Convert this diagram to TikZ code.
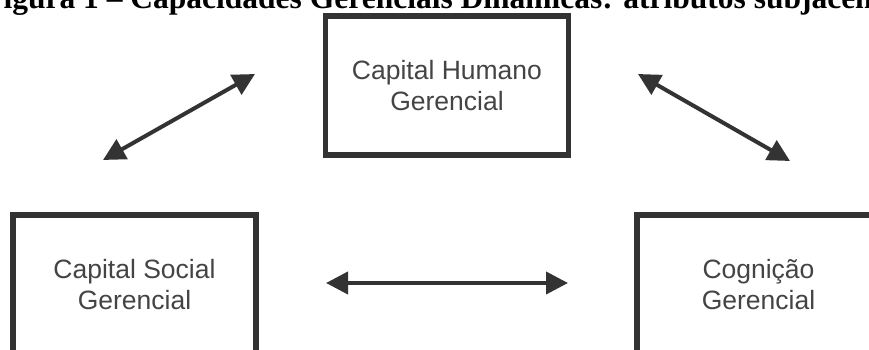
\documentclass[tikz,border=0pt]{standalone}
\usepackage{fontspec}
\setmainfont{Liberation Sans}
\newfontfamily\titlefont{Liberation Serif}
\usetikzlibrary{arrows.meta}
\definecolor{boxgray}{HTML}{333333}
\definecolor{textgray}{HTML}{444444}
\tikzstyle{box} = [rectangle, minimum width=243pt, minimum height=139pt, inner sep=0pt, align=center, draw=boxgray, line width=5.5pt, text=textgray, font=\fontsize{26.5}{30.5}\selectfont]
\tikzstyle{arrow} = [draw=boxgray, line width=4pt, <->, >={Triangle[length=22pt,width=22pt]}]

\begin{document}
\begin{tikzpicture}[x=1pt, y=-1pt]
    \useasboundingbox (0,0) rectangle (869,350);
    \clip (0,0) rectangle (869,350);
    \node (title)[anchor=base west, font=\titlefont\bfseries\fontsize{31.5}{36}\selectfont] at (-19.2,8.5) {Figura 1 – Capacidades Gerenciais Dinâmicas: atributos subjacentes};
    \node (h1)[box] at (447,85.5) {Capital Humano\\Gerencial};
    \node (s1)[box] at (134.5,284.5) {Capital Social\\Gerencial};
    \node (c1)[box] at (758.5,284.5) {Cognição\\Gerencial};
    % free ends of the arrows
    \coordinate (hs1) at (103,160);
    \coordinate (hs2) at (255,74);
    \coordinate (hc1) at (638,74);
    \coordinate (hc2) at (790,161);
    \coordinate (sc1) at (326,283);
    \coordinate (sc2) at (568,283);
    \draw[arrow] (hs1)--(hs2);
    \draw[arrow] (hc1)--(hc2);
    \draw[arrow] (sc1)--(sc2);
\end{tikzpicture}
\end{document}
